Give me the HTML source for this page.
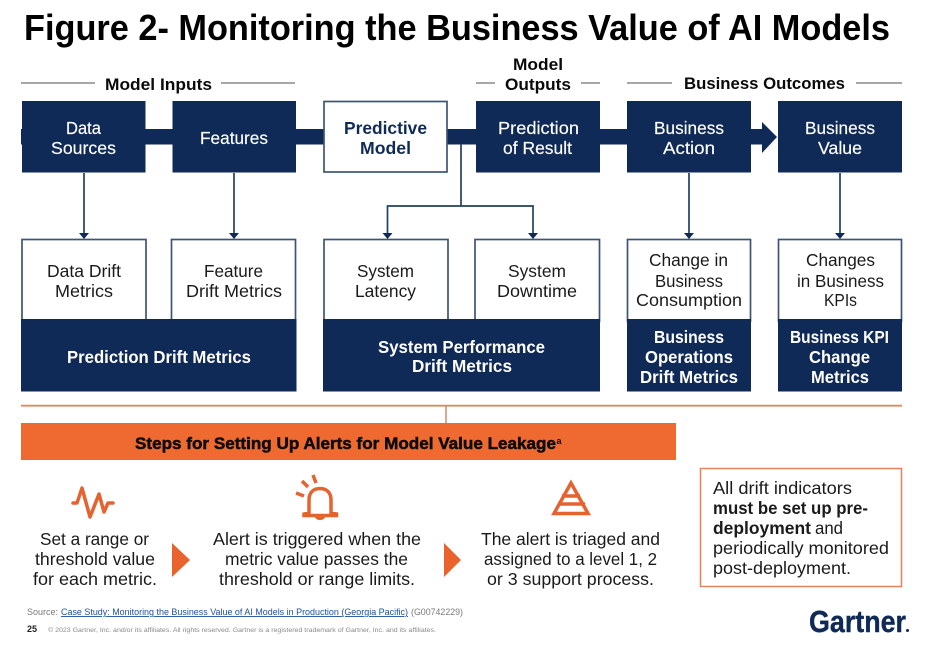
<!DOCTYPE html>
<html><head><meta charset="utf-8"><title>Figure 2</title>
<style>
html,body{margin:0;padding:0;background:#fff;width:939px;height:646px;overflow:hidden}
svg{display:block;font-family:"Liberation Sans",sans-serif}
.w{fill:#fff;font-size:17.5px;font-weight:500;stroke:#fff;stroke-width:.15}
.wb{fill:#fff;font-size:17.5px;font-weight:700}
.d{fill:#1a1a1a;font-size:17.5px}
.n{fill:#0f2a56;font-size:17.5px;font-weight:700}
.h{fill:#0a0a0a;font-size:17px;font-weight:700}
.box{fill:#fff;stroke:#3d5573;stroke-width:1.7}
.nv{fill:#0f2a56}
.ln{stroke:#24405f;stroke-width:1.7;fill:none}
.gr{stroke:#8a8a8a;stroke-width:1.6}
.ic{stroke:#e4632f;fill:none;stroke-width:3.5}
</style></head><body>
<svg width="939" height="646" viewBox="0 0 939 646" xmlns="http://www.w3.org/2000/svg">
<rect width="939" height="646" fill="#fff"/>
<text x="24" y="40" font-size="36" font-weight="700" fill="#000" textLength="866" lengthAdjust="spacingAndGlyphs">Figure 2- Monitoring the Business Value of AI Models</text>

<!-- headers -->
<line class="gr" x1="21" y1="83" x2="95" y2="83"/><line class="gr" x1="221" y1="83" x2="295" y2="83"/>
<line class="gr" x1="476" y1="83" x2="495" y2="83"/><line class="gr" x1="581" y1="83" x2="600" y2="83"/>
<line class="gr" x1="627" y1="83" x2="672" y2="83"/><line class="gr" x1="856" y1="83" x2="902" y2="83"/>
<text class="h" x="105" y="90" textLength="107" lengthAdjust="spacingAndGlyphs">Model Inputs</text>
<text class="h" x="513" y="70" textLength="50" lengthAdjust="spacingAndGlyphs">Model</text>
<text class="h" x="505" y="90" textLength="66" lengthAdjust="spacingAndGlyphs">Outputs</text>
<text class="h" x="684" y="89" textLength="161" lengthAdjust="spacingAndGlyphs">Business Outcomes</text>

<!-- band + arrow -->
<rect class="nv" x="21" y="129" width="741" height="15.5"/>
<polygon class="nv" points="762,122 777,137 762,153"/>

<!-- top boxes -->
<rect class="nv" x="22" y="101" width="123.5" height="71.5"/>
<rect class="nv" x="172.5" y="101" width="123.5" height="71.5"/>
<rect class="box" x="324" y="101.5" width="123" height="70.5"/>
<rect class="nv" x="476" y="101" width="124" height="71.5"/>
<rect class="nv" x="627" y="101" width="124" height="71.5"/>
<rect class="nv" x="778" y="101" width="124" height="71.5"/>

<text class="w" x="66" y="134" textLength="35" lengthAdjust="spacingAndGlyphs">Data</text>
<text class="w" x="51" y="154" textLength="65" lengthAdjust="spacingAndGlyphs">Sources</text>
<text class="w" x="200" y="144" textLength="68" lengthAdjust="spacingAndGlyphs">Features</text>
<text class="n" x="344" y="134" textLength="83" lengthAdjust="spacingAndGlyphs">Predictive</text>
<text class="n" x="360" y="154" textLength="51" lengthAdjust="spacingAndGlyphs">Model</text>
<text class="w" x="498" y="134" textLength="81" lengthAdjust="spacingAndGlyphs">Prediction</text>
<text class="w" x="503" y="154" textLength="69" lengthAdjust="spacingAndGlyphs">of Result</text>
<text class="w" x="654" y="134" textLength="70" lengthAdjust="spacingAndGlyphs">Business</text>
<text class="w" x="663" y="154" textLength="52" lengthAdjust="spacingAndGlyphs">Action</text>
<text class="w" x="805" y="134" textLength="70" lengthAdjust="spacingAndGlyphs">Business</text>
<text class="w" x="818" y="154" textLength="44" lengthAdjust="spacingAndGlyphs">Value</text>

<!-- connectors -->
<g class="ln">
<path d="M84 173V234"/><path d="M234 173V234"/><path d="M689 173V234"/><path d="M840 173V234"/>
<path d="M461 144V206"/><path d="M387.5 234V206H533V234"/>
</g>
<g class="nv">
<polygon points="79,233 89,233 84,239"/><polygon points="229,233 239,233 234,239"/>
<polygon points="382.5,233 392.5,233 387.5,239"/><polygon points="528,233 538,233 533,239"/>
<polygon points="684,233 694,233 689,239"/><polygon points="835,233 845,233 840,239"/>
</g>

<!-- metric boxes -->
<rect class="box" x="22" y="239.5" width="124" height="82"/>
<rect class="box" x="171.5" y="239.5" width="124" height="82"/>
<rect class="box" x="324" y="239.5" width="124" height="82"/>
<rect class="box" x="475" y="239.5" width="124.5" height="82"/>
<rect class="box" x="627.5" y="239.5" width="123" height="82"/>
<rect class="box" x="778.5" y="239.5" width="123" height="82"/>
<rect class="nv" x="21" y="319" width="275.5" height="72.5"/>
<rect class="nv" x="323" y="319" width="277" height="72.5"/>
<rect class="nv" x="627" y="319" width="124" height="72.5"/>
<rect class="nv" x="778" y="319" width="124" height="72.5"/>

<text class="d" x="47" y="277" textLength="74" lengthAdjust="spacingAndGlyphs">Data Drift</text>
<text class="d" x="55" y="297" textLength="58" lengthAdjust="spacingAndGlyphs">Metrics</text>
<text class="d" x="204" y="277" textLength="59" lengthAdjust="spacingAndGlyphs">Feature</text>
<text class="d" x="186" y="297" textLength="96" lengthAdjust="spacingAndGlyphs">Drift Metrics</text>
<text class="d" x="357" y="277" textLength="57" lengthAdjust="spacingAndGlyphs">System</text>
<text class="d" x="355" y="297" textLength="61" lengthAdjust="spacingAndGlyphs">Latency</text>
<text class="d" x="508" y="277" textLength="58" lengthAdjust="spacingAndGlyphs">System</text>
<text class="d" x="497" y="297" textLength="80" lengthAdjust="spacingAndGlyphs">Downtime</text>
<text class="d" x="649" y="266" textLength="79" lengthAdjust="spacingAndGlyphs">Change in</text>
<text class="d" x="655" y="287" textLength="68" lengthAdjust="spacingAndGlyphs">Business</text>
<text class="d" x="636" y="306" textLength="106" lengthAdjust="spacingAndGlyphs">Consumption</text>
<text class="d" x="806" y="266" textLength="69" lengthAdjust="spacingAndGlyphs">Changes</text>
<text class="d" x="797" y="287" textLength="87" lengthAdjust="spacingAndGlyphs">in Business</text>
<text class="d" x="824" y="306" textLength="33" lengthAdjust="spacingAndGlyphs">KPIs</text>

<text class="wb" x="67" y="363" textLength="184" lengthAdjust="spacingAndGlyphs">Prediction Drift Metrics</text>
<text class="wb" x="378" y="353" textLength="167" lengthAdjust="spacingAndGlyphs">System Performance</text>
<text class="wb" x="412" y="372" textLength="100" lengthAdjust="spacingAndGlyphs">Drift Metrics</text>
<text class="wb" x="654" y="343" textLength="70" lengthAdjust="spacingAndGlyphs">Business</text>
<text class="wb" x="645" y="363" textLength="88" lengthAdjust="spacingAndGlyphs">Operations</text>
<text class="wb" x="640" y="383" textLength="98" lengthAdjust="spacingAndGlyphs">Drift Metrics</text>
<text class="wb" x="790" y="343" textLength="99" lengthAdjust="spacingAndGlyphs">Business KPI</text>
<text class="wb" x="809" y="363" textLength="61" lengthAdjust="spacingAndGlyphs">Change</text>
<text class="wb" x="811" y="383" textLength="58" lengthAdjust="spacingAndGlyphs">Metrics</text>

<!-- orange section -->
<line x1="21" y1="405.7" x2="902" y2="405.7" stroke="#dc8a63" stroke-width="1.8"/>
<line x1="446" y1="405" x2="446" y2="424" stroke="#cf8a68" stroke-width="1.5"/>
<rect x="21" y="423" width="655" height="37" fill="#ef6a30"/>
<text x="135" y="449" font-size="17" font-weight="700" fill="#0c0c0c" stroke="#0c0c0c" stroke-width=".5" textLength="421" lengthAdjust="spacingAndGlyphs">Steps for Setting Up Alerts for Model Value Leakage</text>
<text x="556.500" y="444" font-size="9" font-weight="700" fill="#0c0c0c">a</text>

<!-- icons -->
<polyline class="ic" points="73,503 77,503 82,488 90,517 99,494 104,512 108,503 113,503" stroke-linejoin="round" stroke-linecap="round"/>
<g class="ic">
<path d="M309 513V500C309 492 314 488.500 320 488.500C326 488.500 331 492 331 500V513L336.500 514V515.500H304V514Z"/>
<path d="M302 481L308 487M313 475L316 483M296 493L304 496"/>
</g>
<path d="M315 517H325C324 521 316 521 315 517Z" fill="#e4632f"/>
<polygon points="571,483 588,513.500 554,513.500" fill="none" stroke="#e4632f" stroke-width="3.5"/>
<path d="M562 496H580M558 504H585" stroke="#e4632f" stroke-width="3.500"/>

<!-- steps -->
<text class="d" x="40" y="545" textLength="109" lengthAdjust="spacingAndGlyphs">Set a range or</text>
<text class="d" x="35" y="565" textLength="120" lengthAdjust="spacingAndGlyphs">threshold value</text>
<text class="d" x="33" y="585" textLength="124" lengthAdjust="spacingAndGlyphs">for each metric.</text>
<polygon points="172,543 190,560 172,577" fill="#e8642c"/>
<text class="d" x="213" y="545" textLength="208" lengthAdjust="spacingAndGlyphs">Alert is triggered when the</text>
<text class="d" x="225" y="565" textLength="183" lengthAdjust="spacingAndGlyphs">metric value passes the</text>
<text class="d" x="219" y="585" textLength="196" lengthAdjust="spacingAndGlyphs">threshold or range limits.</text>
<polygon points="444,543 461,560 444,577" fill="#e8642c"/>
<text class="d" x="481" y="545" textLength="179" lengthAdjust="spacingAndGlyphs">The alert is triaged and</text>
<text class="d" x="484" y="565" textLength="173" lengthAdjust="spacingAndGlyphs">assigned to a level 1, 2</text>
<text class="d" x="487" y="585" textLength="167" lengthAdjust="spacingAndGlyphs">or 3 support process.</text>

<!-- note -->
<rect x="700.5" y="468.5" width="201" height="118" fill="#fff" stroke="#e2835a" stroke-width="1.5"/>
<text class="d" x="713" y="494" textLength="139" lengthAdjust="spacingAndGlyphs">All drift indicators</text>
<text class="d" x="713" y="514" style="font-weight:700" textLength="155" lengthAdjust="spacingAndGlyphs">must be set up pre-</text>
<text class="d" x="713" y="534" style="font-weight:700" textLength="98" lengthAdjust="spacingAndGlyphs">deployment</text>
<text class="d" x="815" y="534" textLength="28" lengthAdjust="spacingAndGlyphs">and</text>
<text class="d" x="713" y="554" textLength="176" lengthAdjust="spacingAndGlyphs">periodically monitored</text>
<text class="d" x="713" y="574" textLength="138" lengthAdjust="spacingAndGlyphs">post-deployment.</text>

<!-- footer -->
<text x="27" y="615" font-size="9" fill="#7a7a7a" textLength="31" lengthAdjust="spacingAndGlyphs">Source:</text>
<text x="61" y="615" font-size="9" fill="#1f4e96" text-decoration="underline" textLength="347" lengthAdjust="spacingAndGlyphs">Case Study: Monitoring the Business Value of AI Models in Production (Georgia Pacific)</text>
<text x="411" y="615" font-size="9" fill="#7a7a7a" textLength="52" lengthAdjust="spacingAndGlyphs">(G00742229)</text>
<text x="27" y="632" font-size="9" font-weight="700" fill="#222" textLength="10" lengthAdjust="spacingAndGlyphs">25</text>
<text x="48" y="632" font-size="6.5" fill="#8a8a8a" textLength="388" lengthAdjust="spacingAndGlyphs">© 2023 Gartner, Inc. and/or its affiliates. All rights reserved. Gartner is a registered trademark of Gartner, Inc. and its affiliates.</text>
<text x="809" y="632" font-size="31" font-weight="700" fill="#0f2a56" stroke="#0f2a56" stroke-width=".4" textLength="97" lengthAdjust="spacingAndGlyphs">Gartner</text>
<circle cx="907.5" cy="630.5" r="1.5" fill="#0f2a56"/>
</svg>
</body></html>
